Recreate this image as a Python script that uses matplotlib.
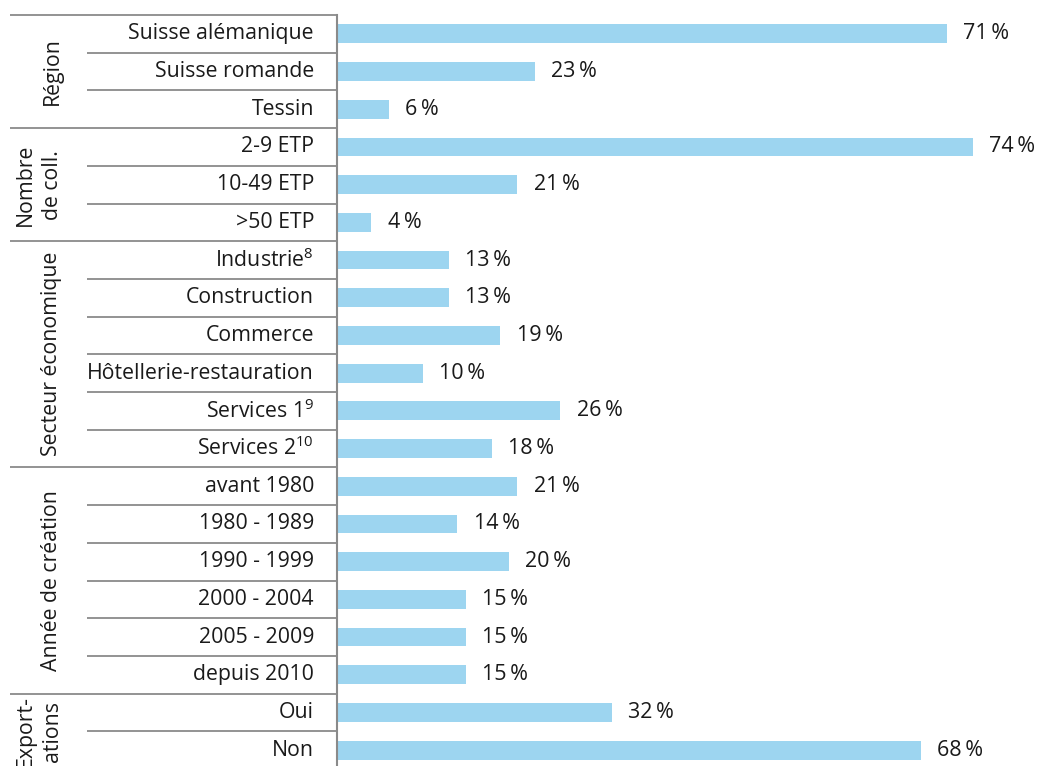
import numpy as np
import matplotlib.pyplot as plt
from matplotlib.transforms import blended_transform_factory

plt.rcParams['font.family'] = ['Open Sans', 'DejaVu Sans']
plt.rcParams['mathtext.fontset'] = 'custom'
plt.rcParams['mathtext.rm'] = 'Open Sans'
plt.rcParams['mathtext.default'] = 'regular'

# data
groups = ['Région', 'Nombre\nde coll.', 'Secteur économique', 'Année de création', 'Export-\nations']
group_sizes = [3, 3, 6, 6, 2]
categories = ['Suisse alémanique', 'Suisse romande', 'Tessin',
              '2-9 ETP', '10-49 ETP', '>50 ETP',
              'Industrie$^{8}$', 'Construction', 'Commerce', 'Hôtellerie-restauration',
              'Services 1$^{9}$', 'Services 2$^{10}$',
              'avant 1980', '1980 - 1989', '1990 - 1999', '2000 - 2004', '2005 - 2009', 'depuis 2010',
              'Oui', 'Non']
values = [71, 23, 6,
          74, 21, 4,
          13, 13, 19, 10, 26, 18,
          21, 14, 20, 15, 15, 15,
          32, 68]

W, H = 1038, 766
fig = plt.figure(figsize=(W / 100, H / 100), dpi=100)
ax_left = 337 / W
ax = fig.add_axes([ax_left, 0, 1 - ax_left, (H - 15) / H])

y = np.arange(len(values))
ax.barh(y, values, height=0.5, color='#9dd5f0')
ax.set_xlim(0, 81.6)
ax.set_ylim(-0.5 + (H - 15) / 37.7, -0.5)

for yi, v in zip(y, values):
    ax.text(v + 1.9, yi, '%d\u2009%%' % v, va='center', ha='left', fontsize=15.5, color='#1a1a1a',
            family=['Liberation Sans Narrow', 'Open Sans', 'DejaVu Sans'])

for s in ['top', 'right', 'bottom']:
    ax.spines[s].set_visible(False)
ax.spines['left'].set_color('#8a8a8a')
ax.spines['left'].set_linewidth(1.5)
ax.set_xticks([])
ax.set_yticks([])

tr = blended_transform_factory(fig.transFigure, ax.transData)

# category labels
for yi, c in zip(y, categories):
    ax.text(314 / W, yi, c, transform=tr, ha='right', va='center', fontsize=15.3, color='#1a1a1a')

# separator lines
starts = np.cumsum([0] + group_sizes)
for b in range(len(values) + 1):
    x0 = 10 / W if b in starts else 87 / W
    ax.plot([x0, ax_left], [b - 0.5, b - 0.5], transform=tr, color='#8a8a8a', lw=1.3,
            clip_on=False, solid_capstyle='butt')

# group labels
group_x = [52, 39, 52, 52, 39]
for g, n, s, gx in zip(groups, group_sizes, starts, group_x):
    ax.text(gx / W, s + (n - 1) / 2, g, transform=tr, rotation=90, ha='center', va='center',
            fontsize=15.3, color='#1a1a1a', linespacing=1.4, multialignment='center')

fig.savefig('out.png', dpi=100)
